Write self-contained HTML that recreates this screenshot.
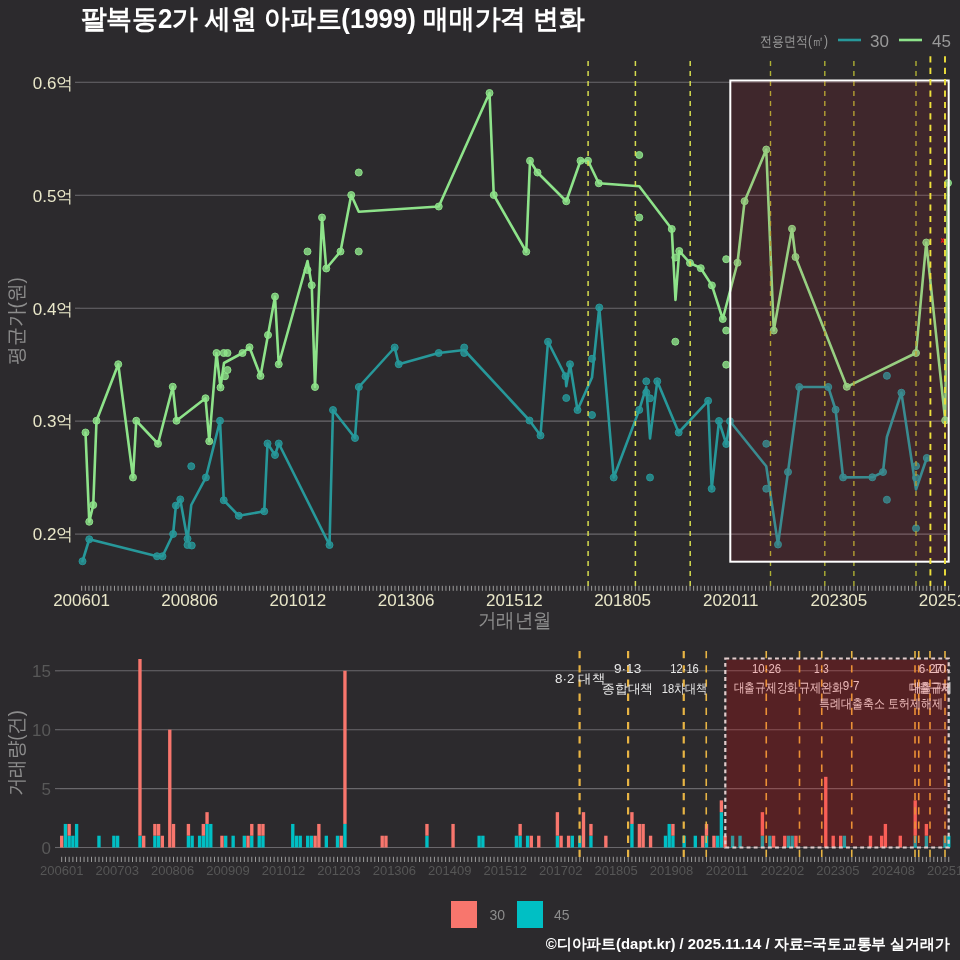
<!DOCTYPE html>
<html><head><meta charset="utf-8"><style>
html,body{margin:0;padding:0;background:#2c2a2d;width:960px;height:960px;overflow:hidden}
svg{display:block;will-change:transform}
text{font-family:"Liberation Sans", sans-serif}
.yl{font-size:17px;fill:#e9e7c9}
.xl{font-size:17px;fill:#e9e7c9}
.title{font-size:27px;font-weight:bold;fill:#ffffff}
.axt{font-size:20px;fill:#8c8c8c}
.lg{font-size:14px;fill:#9a9a9a}
.lgn{font-size:17px;fill:#9a9a9a}
.byl{font-size:17px;fill:#585858}
.bxl{font-size:13px;fill:#565656}
.ann{font-size:13px;fill:#e8e8e8}
.bleg{font-size:14px;fill:#8c8c8c}
.cap{font-size:15px;font-weight:bold;fill:#ffffff}
</style></head><body>
<svg width="960" height="960" viewBox="0 0 960 960">
<defs><clipPath id="bclip"><rect x="60" y="640" width="890.5" height="230"/></clipPath></defs>
<rect x="0" y="0" width="960" height="960" fill="#2c2a2d"/>
<line x1="80" y1="82.3" x2="950" y2="82.3" stroke="#6a686c" stroke-width="1.1"/>
<line x1="75" y1="82.3" x2="80" y2="82.3" stroke="#6a686c" stroke-width="1.1"/>
<text x="73.5" y="88.6" text-anchor="end" class="yl">0.6억</text>
<line x1="80" y1="195.3" x2="950" y2="195.3" stroke="#6a686c" stroke-width="1.1"/>
<line x1="75" y1="195.3" x2="80" y2="195.3" stroke="#6a686c" stroke-width="1.1"/>
<text x="73.5" y="201.6" text-anchor="end" class="yl">0.5억</text>
<line x1="80" y1="308.2" x2="950" y2="308.2" stroke="#6a686c" stroke-width="1.1"/>
<line x1="75" y1="308.2" x2="80" y2="308.2" stroke="#6a686c" stroke-width="1.1"/>
<text x="73.5" y="314.5" text-anchor="end" class="yl">0.4억</text>
<line x1="80" y1="421.1" x2="950" y2="421.1" stroke="#6a686c" stroke-width="1.1"/>
<line x1="75" y1="421.1" x2="80" y2="421.1" stroke="#6a686c" stroke-width="1.1"/>
<text x="73.5" y="427.4" text-anchor="end" class="yl">0.3억</text>
<line x1="80" y1="534.1" x2="950" y2="534.1" stroke="#6a686c" stroke-width="1.1"/>
<line x1="75" y1="534.1" x2="80" y2="534.1" stroke="#6a686c" stroke-width="1.1"/>
<text x="73.5" y="540.4" text-anchor="end" class="yl">0.2억</text>
<line x1="81.7" y1="585.8" x2="81.7" y2="590.8" stroke="#a8a8a8" stroke-width="0.9"/>
<line x1="85.34" y1="585.8" x2="85.34" y2="590.8" stroke="#a8a8a8" stroke-width="0.9"/>
<line x1="88.98" y1="585.8" x2="88.98" y2="590.8" stroke="#a8a8a8" stroke-width="0.9"/>
<line x1="92.63" y1="585.8" x2="92.63" y2="590.8" stroke="#a8a8a8" stroke-width="0.9"/>
<line x1="96.27" y1="585.8" x2="96.27" y2="590.8" stroke="#a8a8a8" stroke-width="0.9"/>
<line x1="99.91" y1="585.8" x2="99.91" y2="590.8" stroke="#a8a8a8" stroke-width="0.9"/>
<line x1="103.55" y1="585.8" x2="103.55" y2="590.8" stroke="#a8a8a8" stroke-width="0.9"/>
<line x1="107.2" y1="585.8" x2="107.2" y2="590.8" stroke="#a8a8a8" stroke-width="0.9"/>
<line x1="110.84" y1="585.8" x2="110.84" y2="590.8" stroke="#a8a8a8" stroke-width="0.9"/>
<line x1="114.48" y1="585.8" x2="114.48" y2="590.8" stroke="#a8a8a8" stroke-width="0.9"/>
<line x1="118.12" y1="585.8" x2="118.12" y2="590.8" stroke="#a8a8a8" stroke-width="0.9"/>
<line x1="121.77" y1="585.8" x2="121.77" y2="590.8" stroke="#a8a8a8" stroke-width="0.9"/>
<line x1="125.41" y1="585.8" x2="125.41" y2="590.8" stroke="#a8a8a8" stroke-width="0.9"/>
<line x1="129.05" y1="585.8" x2="129.05" y2="590.8" stroke="#a8a8a8" stroke-width="0.9"/>
<line x1="132.69" y1="585.8" x2="132.69" y2="590.8" stroke="#a8a8a8" stroke-width="0.9"/>
<line x1="136.34" y1="585.8" x2="136.34" y2="590.8" stroke="#a8a8a8" stroke-width="0.9"/>
<line x1="139.98" y1="585.8" x2="139.98" y2="590.8" stroke="#a8a8a8" stroke-width="0.9"/>
<line x1="143.62" y1="585.8" x2="143.62" y2="590.8" stroke="#a8a8a8" stroke-width="0.9"/>
<line x1="147.26" y1="585.8" x2="147.26" y2="590.8" stroke="#a8a8a8" stroke-width="0.9"/>
<line x1="150.91" y1="585.8" x2="150.91" y2="590.8" stroke="#a8a8a8" stroke-width="0.9"/>
<line x1="154.55" y1="585.8" x2="154.55" y2="590.8" stroke="#a8a8a8" stroke-width="0.9"/>
<line x1="158.19" y1="585.8" x2="158.19" y2="590.8" stroke="#a8a8a8" stroke-width="0.9"/>
<line x1="161.83" y1="585.8" x2="161.83" y2="590.8" stroke="#a8a8a8" stroke-width="0.9"/>
<line x1="165.48" y1="585.8" x2="165.48" y2="590.8" stroke="#a8a8a8" stroke-width="0.9"/>
<line x1="169.12" y1="585.8" x2="169.12" y2="590.8" stroke="#a8a8a8" stroke-width="0.9"/>
<line x1="172.76" y1="585.8" x2="172.76" y2="590.8" stroke="#a8a8a8" stroke-width="0.9"/>
<line x1="176.4" y1="585.8" x2="176.4" y2="590.8" stroke="#a8a8a8" stroke-width="0.9"/>
<line x1="180.05" y1="585.8" x2="180.05" y2="590.8" stroke="#a8a8a8" stroke-width="0.9"/>
<line x1="183.69" y1="585.8" x2="183.69" y2="590.8" stroke="#a8a8a8" stroke-width="0.9"/>
<line x1="187.33" y1="585.8" x2="187.33" y2="590.8" stroke="#a8a8a8" stroke-width="0.9"/>
<line x1="190.97" y1="585.8" x2="190.97" y2="590.8" stroke="#a8a8a8" stroke-width="0.9"/>
<line x1="194.62" y1="585.8" x2="194.62" y2="590.8" stroke="#a8a8a8" stroke-width="0.9"/>
<line x1="198.26" y1="585.8" x2="198.26" y2="590.8" stroke="#a8a8a8" stroke-width="0.9"/>
<line x1="201.9" y1="585.8" x2="201.9" y2="590.8" stroke="#a8a8a8" stroke-width="0.9"/>
<line x1="205.54" y1="585.8" x2="205.54" y2="590.8" stroke="#a8a8a8" stroke-width="0.9"/>
<line x1="209.19" y1="585.8" x2="209.19" y2="590.8" stroke="#a8a8a8" stroke-width="0.9"/>
<line x1="212.83" y1="585.8" x2="212.83" y2="590.8" stroke="#a8a8a8" stroke-width="0.9"/>
<line x1="216.47" y1="585.8" x2="216.47" y2="590.8" stroke="#a8a8a8" stroke-width="0.9"/>
<line x1="220.11" y1="585.8" x2="220.11" y2="590.8" stroke="#a8a8a8" stroke-width="0.9"/>
<line x1="223.76" y1="585.8" x2="223.76" y2="590.8" stroke="#a8a8a8" stroke-width="0.9"/>
<line x1="227.4" y1="585.8" x2="227.4" y2="590.8" stroke="#a8a8a8" stroke-width="0.9"/>
<line x1="231.04" y1="585.8" x2="231.04" y2="590.8" stroke="#a8a8a8" stroke-width="0.9"/>
<line x1="234.68" y1="585.8" x2="234.68" y2="590.8" stroke="#a8a8a8" stroke-width="0.9"/>
<line x1="238.32" y1="585.8" x2="238.32" y2="590.8" stroke="#a8a8a8" stroke-width="0.9"/>
<line x1="241.97" y1="585.8" x2="241.97" y2="590.8" stroke="#a8a8a8" stroke-width="0.9"/>
<line x1="245.61" y1="585.8" x2="245.61" y2="590.8" stroke="#a8a8a8" stroke-width="0.9"/>
<line x1="249.25" y1="585.8" x2="249.25" y2="590.8" stroke="#a8a8a8" stroke-width="0.9"/>
<line x1="252.89" y1="585.8" x2="252.89" y2="590.8" stroke="#a8a8a8" stroke-width="0.9"/>
<line x1="256.54" y1="585.8" x2="256.54" y2="590.8" stroke="#a8a8a8" stroke-width="0.9"/>
<line x1="260.18" y1="585.8" x2="260.18" y2="590.8" stroke="#a8a8a8" stroke-width="0.9"/>
<line x1="263.82" y1="585.8" x2="263.82" y2="590.8" stroke="#a8a8a8" stroke-width="0.9"/>
<line x1="267.46" y1="585.8" x2="267.46" y2="590.8" stroke="#a8a8a8" stroke-width="0.9"/>
<line x1="271.11" y1="585.8" x2="271.11" y2="590.8" stroke="#a8a8a8" stroke-width="0.9"/>
<line x1="274.75" y1="585.8" x2="274.75" y2="590.8" stroke="#a8a8a8" stroke-width="0.9"/>
<line x1="278.39" y1="585.8" x2="278.39" y2="590.8" stroke="#a8a8a8" stroke-width="0.9"/>
<line x1="282.03" y1="585.8" x2="282.03" y2="590.8" stroke="#a8a8a8" stroke-width="0.9"/>
<line x1="285.68" y1="585.8" x2="285.68" y2="590.8" stroke="#a8a8a8" stroke-width="0.9"/>
<line x1="289.32" y1="585.8" x2="289.32" y2="590.8" stroke="#a8a8a8" stroke-width="0.9"/>
<line x1="292.96" y1="585.8" x2="292.96" y2="590.8" stroke="#a8a8a8" stroke-width="0.9"/>
<line x1="296.6" y1="585.8" x2="296.6" y2="590.8" stroke="#a8a8a8" stroke-width="0.9"/>
<line x1="300.25" y1="585.8" x2="300.25" y2="590.8" stroke="#a8a8a8" stroke-width="0.9"/>
<line x1="303.89" y1="585.8" x2="303.89" y2="590.8" stroke="#a8a8a8" stroke-width="0.9"/>
<line x1="307.53" y1="585.8" x2="307.53" y2="590.8" stroke="#a8a8a8" stroke-width="0.9"/>
<line x1="311.17" y1="585.8" x2="311.17" y2="590.8" stroke="#a8a8a8" stroke-width="0.9"/>
<line x1="314.82" y1="585.8" x2="314.82" y2="590.8" stroke="#a8a8a8" stroke-width="0.9"/>
<line x1="318.46" y1="585.8" x2="318.46" y2="590.8" stroke="#a8a8a8" stroke-width="0.9"/>
<line x1="322.1" y1="585.8" x2="322.1" y2="590.8" stroke="#a8a8a8" stroke-width="0.9"/>
<line x1="325.74" y1="585.8" x2="325.74" y2="590.8" stroke="#a8a8a8" stroke-width="0.9"/>
<line x1="329.39" y1="585.8" x2="329.39" y2="590.8" stroke="#a8a8a8" stroke-width="0.9"/>
<line x1="333.03" y1="585.8" x2="333.03" y2="590.8" stroke="#a8a8a8" stroke-width="0.9"/>
<line x1="336.67" y1="585.8" x2="336.67" y2="590.8" stroke="#a8a8a8" stroke-width="0.9"/>
<line x1="340.31" y1="585.8" x2="340.31" y2="590.8" stroke="#a8a8a8" stroke-width="0.9"/>
<line x1="343.96" y1="585.8" x2="343.96" y2="590.8" stroke="#a8a8a8" stroke-width="0.9"/>
<line x1="347.6" y1="585.8" x2="347.6" y2="590.8" stroke="#a8a8a8" stroke-width="0.9"/>
<line x1="351.24" y1="585.8" x2="351.24" y2="590.8" stroke="#a8a8a8" stroke-width="0.9"/>
<line x1="354.88" y1="585.8" x2="354.88" y2="590.8" stroke="#a8a8a8" stroke-width="0.9"/>
<line x1="358.53" y1="585.8" x2="358.53" y2="590.8" stroke="#a8a8a8" stroke-width="0.9"/>
<line x1="362.17" y1="585.8" x2="362.17" y2="590.8" stroke="#a8a8a8" stroke-width="0.9"/>
<line x1="365.81" y1="585.8" x2="365.81" y2="590.8" stroke="#a8a8a8" stroke-width="0.9"/>
<line x1="369.45" y1="585.8" x2="369.45" y2="590.8" stroke="#a8a8a8" stroke-width="0.9"/>
<line x1="373.09" y1="585.8" x2="373.09" y2="590.8" stroke="#a8a8a8" stroke-width="0.9"/>
<line x1="376.74" y1="585.8" x2="376.74" y2="590.8" stroke="#a8a8a8" stroke-width="0.9"/>
<line x1="380.38" y1="585.8" x2="380.38" y2="590.8" stroke="#a8a8a8" stroke-width="0.9"/>
<line x1="384.02" y1="585.8" x2="384.02" y2="590.8" stroke="#a8a8a8" stroke-width="0.9"/>
<line x1="387.66" y1="585.8" x2="387.66" y2="590.8" stroke="#a8a8a8" stroke-width="0.9"/>
<line x1="391.31" y1="585.8" x2="391.31" y2="590.8" stroke="#a8a8a8" stroke-width="0.9"/>
<line x1="394.95" y1="585.8" x2="394.95" y2="590.8" stroke="#a8a8a8" stroke-width="0.9"/>
<line x1="398.59" y1="585.8" x2="398.59" y2="590.8" stroke="#a8a8a8" stroke-width="0.9"/>
<line x1="402.23" y1="585.8" x2="402.23" y2="590.8" stroke="#a8a8a8" stroke-width="0.9"/>
<line x1="405.88" y1="585.8" x2="405.88" y2="590.8" stroke="#a8a8a8" stroke-width="0.9"/>
<line x1="409.52" y1="585.8" x2="409.52" y2="590.8" stroke="#a8a8a8" stroke-width="0.9"/>
<line x1="413.16" y1="585.8" x2="413.16" y2="590.8" stroke="#a8a8a8" stroke-width="0.9"/>
<line x1="416.8" y1="585.8" x2="416.8" y2="590.8" stroke="#a8a8a8" stroke-width="0.9"/>
<line x1="420.45" y1="585.8" x2="420.45" y2="590.8" stroke="#a8a8a8" stroke-width="0.9"/>
<line x1="424.09" y1="585.8" x2="424.09" y2="590.8" stroke="#a8a8a8" stroke-width="0.9"/>
<line x1="427.73" y1="585.8" x2="427.73" y2="590.8" stroke="#a8a8a8" stroke-width="0.9"/>
<line x1="431.37" y1="585.8" x2="431.37" y2="590.8" stroke="#a8a8a8" stroke-width="0.9"/>
<line x1="435.02" y1="585.8" x2="435.02" y2="590.8" stroke="#a8a8a8" stroke-width="0.9"/>
<line x1="438.66" y1="585.8" x2="438.66" y2="590.8" stroke="#a8a8a8" stroke-width="0.9"/>
<line x1="442.3" y1="585.8" x2="442.3" y2="590.8" stroke="#a8a8a8" stroke-width="0.9"/>
<line x1="445.94" y1="585.8" x2="445.94" y2="590.8" stroke="#a8a8a8" stroke-width="0.9"/>
<line x1="449.59" y1="585.8" x2="449.59" y2="590.8" stroke="#a8a8a8" stroke-width="0.9"/>
<line x1="453.23" y1="585.8" x2="453.23" y2="590.8" stroke="#a8a8a8" stroke-width="0.9"/>
<line x1="456.87" y1="585.8" x2="456.87" y2="590.8" stroke="#a8a8a8" stroke-width="0.9"/>
<line x1="460.51" y1="585.8" x2="460.51" y2="590.8" stroke="#a8a8a8" stroke-width="0.9"/>
<line x1="464.16" y1="585.8" x2="464.16" y2="590.8" stroke="#a8a8a8" stroke-width="0.9"/>
<line x1="467.8" y1="585.8" x2="467.8" y2="590.8" stroke="#a8a8a8" stroke-width="0.9"/>
<line x1="471.44" y1="585.8" x2="471.44" y2="590.8" stroke="#a8a8a8" stroke-width="0.9"/>
<line x1="475.08" y1="585.8" x2="475.08" y2="590.8" stroke="#a8a8a8" stroke-width="0.9"/>
<line x1="478.73" y1="585.8" x2="478.73" y2="590.8" stroke="#a8a8a8" stroke-width="0.9"/>
<line x1="482.37" y1="585.8" x2="482.37" y2="590.8" stroke="#a8a8a8" stroke-width="0.9"/>
<line x1="486.01" y1="585.8" x2="486.01" y2="590.8" stroke="#a8a8a8" stroke-width="0.9"/>
<line x1="489.65" y1="585.8" x2="489.65" y2="590.8" stroke="#a8a8a8" stroke-width="0.9"/>
<line x1="493.3" y1="585.8" x2="493.3" y2="590.8" stroke="#a8a8a8" stroke-width="0.9"/>
<line x1="496.94" y1="585.8" x2="496.94" y2="590.8" stroke="#a8a8a8" stroke-width="0.9"/>
<line x1="500.58" y1="585.8" x2="500.58" y2="590.8" stroke="#a8a8a8" stroke-width="0.9"/>
<line x1="504.22" y1="585.8" x2="504.22" y2="590.8" stroke="#a8a8a8" stroke-width="0.9"/>
<line x1="507.87" y1="585.8" x2="507.87" y2="590.8" stroke="#a8a8a8" stroke-width="0.9"/>
<line x1="511.51" y1="585.8" x2="511.51" y2="590.8" stroke="#a8a8a8" stroke-width="0.9"/>
<line x1="515.15" y1="585.8" x2="515.15" y2="590.8" stroke="#a8a8a8" stroke-width="0.9"/>
<line x1="518.79" y1="585.8" x2="518.79" y2="590.8" stroke="#a8a8a8" stroke-width="0.9"/>
<line x1="522.43" y1="585.8" x2="522.43" y2="590.8" stroke="#a8a8a8" stroke-width="0.9"/>
<line x1="526.08" y1="585.8" x2="526.08" y2="590.8" stroke="#a8a8a8" stroke-width="0.9"/>
<line x1="529.72" y1="585.8" x2="529.72" y2="590.8" stroke="#a8a8a8" stroke-width="0.9"/>
<line x1="533.36" y1="585.8" x2="533.36" y2="590.8" stroke="#a8a8a8" stroke-width="0.9"/>
<line x1="537" y1="585.8" x2="537" y2="590.8" stroke="#a8a8a8" stroke-width="0.9"/>
<line x1="540.65" y1="585.8" x2="540.65" y2="590.8" stroke="#a8a8a8" stroke-width="0.9"/>
<line x1="544.29" y1="585.8" x2="544.29" y2="590.8" stroke="#a8a8a8" stroke-width="0.9"/>
<line x1="547.93" y1="585.8" x2="547.93" y2="590.8" stroke="#a8a8a8" stroke-width="0.9"/>
<line x1="551.57" y1="585.8" x2="551.57" y2="590.8" stroke="#a8a8a8" stroke-width="0.9"/>
<line x1="555.22" y1="585.8" x2="555.22" y2="590.8" stroke="#a8a8a8" stroke-width="0.9"/>
<line x1="558.86" y1="585.8" x2="558.86" y2="590.8" stroke="#a8a8a8" stroke-width="0.9"/>
<line x1="562.5" y1="585.8" x2="562.5" y2="590.8" stroke="#a8a8a8" stroke-width="0.9"/>
<line x1="566.14" y1="585.8" x2="566.14" y2="590.8" stroke="#a8a8a8" stroke-width="0.9"/>
<line x1="569.79" y1="585.8" x2="569.79" y2="590.8" stroke="#a8a8a8" stroke-width="0.9"/>
<line x1="573.43" y1="585.8" x2="573.43" y2="590.8" stroke="#a8a8a8" stroke-width="0.9"/>
<line x1="577.07" y1="585.8" x2="577.07" y2="590.8" stroke="#a8a8a8" stroke-width="0.9"/>
<line x1="580.71" y1="585.8" x2="580.71" y2="590.8" stroke="#a8a8a8" stroke-width="0.9"/>
<line x1="584.36" y1="585.8" x2="584.36" y2="590.8" stroke="#a8a8a8" stroke-width="0.9"/>
<line x1="588" y1="585.8" x2="588" y2="590.8" stroke="#a8a8a8" stroke-width="0.9"/>
<line x1="591.64" y1="585.8" x2="591.64" y2="590.8" stroke="#a8a8a8" stroke-width="0.9"/>
<line x1="595.28" y1="585.8" x2="595.28" y2="590.8" stroke="#a8a8a8" stroke-width="0.9"/>
<line x1="598.93" y1="585.8" x2="598.93" y2="590.8" stroke="#a8a8a8" stroke-width="0.9"/>
<line x1="602.57" y1="585.8" x2="602.57" y2="590.8" stroke="#a8a8a8" stroke-width="0.9"/>
<line x1="606.21" y1="585.8" x2="606.21" y2="590.8" stroke="#a8a8a8" stroke-width="0.9"/>
<line x1="609.85" y1="585.8" x2="609.85" y2="590.8" stroke="#a8a8a8" stroke-width="0.9"/>
<line x1="613.5" y1="585.8" x2="613.5" y2="590.8" stroke="#a8a8a8" stroke-width="0.9"/>
<line x1="617.14" y1="585.8" x2="617.14" y2="590.8" stroke="#a8a8a8" stroke-width="0.9"/>
<line x1="620.78" y1="585.8" x2="620.78" y2="590.8" stroke="#a8a8a8" stroke-width="0.9"/>
<line x1="624.42" y1="585.8" x2="624.42" y2="590.8" stroke="#a8a8a8" stroke-width="0.9"/>
<line x1="628.07" y1="585.8" x2="628.07" y2="590.8" stroke="#a8a8a8" stroke-width="0.9"/>
<line x1="631.71" y1="585.8" x2="631.71" y2="590.8" stroke="#a8a8a8" stroke-width="0.9"/>
<line x1="635.35" y1="585.8" x2="635.35" y2="590.8" stroke="#a8a8a8" stroke-width="0.9"/>
<line x1="638.99" y1="585.8" x2="638.99" y2="590.8" stroke="#a8a8a8" stroke-width="0.9"/>
<line x1="642.64" y1="585.8" x2="642.64" y2="590.8" stroke="#a8a8a8" stroke-width="0.9"/>
<line x1="646.28" y1="585.8" x2="646.28" y2="590.8" stroke="#a8a8a8" stroke-width="0.9"/>
<line x1="649.92" y1="585.8" x2="649.92" y2="590.8" stroke="#a8a8a8" stroke-width="0.9"/>
<line x1="653.56" y1="585.8" x2="653.56" y2="590.8" stroke="#a8a8a8" stroke-width="0.9"/>
<line x1="657.21" y1="585.8" x2="657.21" y2="590.8" stroke="#a8a8a8" stroke-width="0.9"/>
<line x1="660.85" y1="585.8" x2="660.85" y2="590.8" stroke="#a8a8a8" stroke-width="0.9"/>
<line x1="664.49" y1="585.8" x2="664.49" y2="590.8" stroke="#a8a8a8" stroke-width="0.9"/>
<line x1="668.13" y1="585.8" x2="668.13" y2="590.8" stroke="#a8a8a8" stroke-width="0.9"/>
<line x1="671.77" y1="585.8" x2="671.77" y2="590.8" stroke="#a8a8a8" stroke-width="0.9"/>
<line x1="675.42" y1="585.8" x2="675.42" y2="590.8" stroke="#a8a8a8" stroke-width="0.9"/>
<line x1="679.06" y1="585.8" x2="679.06" y2="590.8" stroke="#a8a8a8" stroke-width="0.9"/>
<line x1="682.7" y1="585.8" x2="682.7" y2="590.8" stroke="#a8a8a8" stroke-width="0.9"/>
<line x1="686.34" y1="585.8" x2="686.34" y2="590.8" stroke="#a8a8a8" stroke-width="0.9"/>
<line x1="689.99" y1="585.8" x2="689.99" y2="590.8" stroke="#a8a8a8" stroke-width="0.9"/>
<line x1="693.63" y1="585.8" x2="693.63" y2="590.8" stroke="#a8a8a8" stroke-width="0.9"/>
<line x1="697.27" y1="585.8" x2="697.27" y2="590.8" stroke="#a8a8a8" stroke-width="0.9"/>
<line x1="700.91" y1="585.8" x2="700.91" y2="590.8" stroke="#a8a8a8" stroke-width="0.9"/>
<line x1="704.56" y1="585.8" x2="704.56" y2="590.8" stroke="#a8a8a8" stroke-width="0.9"/>
<line x1="708.2" y1="585.8" x2="708.2" y2="590.8" stroke="#a8a8a8" stroke-width="0.9"/>
<line x1="711.84" y1="585.8" x2="711.84" y2="590.8" stroke="#a8a8a8" stroke-width="0.9"/>
<line x1="715.48" y1="585.8" x2="715.48" y2="590.8" stroke="#a8a8a8" stroke-width="0.9"/>
<line x1="719.13" y1="585.8" x2="719.13" y2="590.8" stroke="#a8a8a8" stroke-width="0.9"/>
<line x1="722.77" y1="585.8" x2="722.77" y2="590.8" stroke="#a8a8a8" stroke-width="0.9"/>
<line x1="726.41" y1="585.8" x2="726.41" y2="590.8" stroke="#a8a8a8" stroke-width="0.9"/>
<line x1="730.05" y1="585.8" x2="730.05" y2="590.8" stroke="#a8a8a8" stroke-width="0.9"/>
<line x1="733.7" y1="585.8" x2="733.7" y2="590.8" stroke="#a8a8a8" stroke-width="0.9"/>
<line x1="737.34" y1="585.8" x2="737.34" y2="590.8" stroke="#a8a8a8" stroke-width="0.9"/>
<line x1="740.98" y1="585.8" x2="740.98" y2="590.8" stroke="#a8a8a8" stroke-width="0.9"/>
<line x1="744.62" y1="585.8" x2="744.62" y2="590.8" stroke="#a8a8a8" stroke-width="0.9"/>
<line x1="748.27" y1="585.8" x2="748.27" y2="590.8" stroke="#a8a8a8" stroke-width="0.9"/>
<line x1="751.91" y1="585.8" x2="751.91" y2="590.8" stroke="#a8a8a8" stroke-width="0.9"/>
<line x1="755.55" y1="585.8" x2="755.55" y2="590.8" stroke="#a8a8a8" stroke-width="0.9"/>
<line x1="759.19" y1="585.8" x2="759.19" y2="590.8" stroke="#a8a8a8" stroke-width="0.9"/>
<line x1="762.84" y1="585.8" x2="762.84" y2="590.8" stroke="#a8a8a8" stroke-width="0.9"/>
<line x1="766.48" y1="585.8" x2="766.48" y2="590.8" stroke="#a8a8a8" stroke-width="0.9"/>
<line x1="770.12" y1="585.8" x2="770.12" y2="590.8" stroke="#a8a8a8" stroke-width="0.9"/>
<line x1="773.76" y1="585.8" x2="773.76" y2="590.8" stroke="#a8a8a8" stroke-width="0.9"/>
<line x1="777.41" y1="585.8" x2="777.41" y2="590.8" stroke="#a8a8a8" stroke-width="0.9"/>
<line x1="781.05" y1="585.8" x2="781.05" y2="590.8" stroke="#a8a8a8" stroke-width="0.9"/>
<line x1="784.69" y1="585.8" x2="784.69" y2="590.8" stroke="#a8a8a8" stroke-width="0.9"/>
<line x1="788.33" y1="585.8" x2="788.33" y2="590.8" stroke="#a8a8a8" stroke-width="0.9"/>
<line x1="791.98" y1="585.8" x2="791.98" y2="590.8" stroke="#a8a8a8" stroke-width="0.9"/>
<line x1="795.62" y1="585.8" x2="795.62" y2="590.8" stroke="#a8a8a8" stroke-width="0.9"/>
<line x1="799.26" y1="585.8" x2="799.26" y2="590.8" stroke="#a8a8a8" stroke-width="0.9"/>
<line x1="802.9" y1="585.8" x2="802.9" y2="590.8" stroke="#a8a8a8" stroke-width="0.9"/>
<line x1="806.54" y1="585.8" x2="806.54" y2="590.8" stroke="#a8a8a8" stroke-width="0.9"/>
<line x1="810.19" y1="585.8" x2="810.19" y2="590.8" stroke="#a8a8a8" stroke-width="0.9"/>
<line x1="813.83" y1="585.8" x2="813.83" y2="590.8" stroke="#a8a8a8" stroke-width="0.9"/>
<line x1="817.47" y1="585.8" x2="817.47" y2="590.8" stroke="#a8a8a8" stroke-width="0.9"/>
<line x1="821.11" y1="585.8" x2="821.11" y2="590.8" stroke="#a8a8a8" stroke-width="0.9"/>
<line x1="824.76" y1="585.8" x2="824.76" y2="590.8" stroke="#a8a8a8" stroke-width="0.9"/>
<line x1="828.4" y1="585.8" x2="828.4" y2="590.8" stroke="#a8a8a8" stroke-width="0.9"/>
<line x1="832.04" y1="585.8" x2="832.04" y2="590.8" stroke="#a8a8a8" stroke-width="0.9"/>
<line x1="835.68" y1="585.8" x2="835.68" y2="590.8" stroke="#a8a8a8" stroke-width="0.9"/>
<line x1="839.33" y1="585.8" x2="839.33" y2="590.8" stroke="#a8a8a8" stroke-width="0.9"/>
<line x1="842.97" y1="585.8" x2="842.97" y2="590.8" stroke="#a8a8a8" stroke-width="0.9"/>
<line x1="846.61" y1="585.8" x2="846.61" y2="590.8" stroke="#a8a8a8" stroke-width="0.9"/>
<line x1="850.25" y1="585.8" x2="850.25" y2="590.8" stroke="#a8a8a8" stroke-width="0.9"/>
<line x1="853.9" y1="585.8" x2="853.9" y2="590.8" stroke="#a8a8a8" stroke-width="0.9"/>
<line x1="857.54" y1="585.8" x2="857.54" y2="590.8" stroke="#a8a8a8" stroke-width="0.9"/>
<line x1="861.18" y1="585.8" x2="861.18" y2="590.8" stroke="#a8a8a8" stroke-width="0.9"/>
<line x1="864.82" y1="585.8" x2="864.82" y2="590.8" stroke="#a8a8a8" stroke-width="0.9"/>
<line x1="868.47" y1="585.8" x2="868.47" y2="590.8" stroke="#a8a8a8" stroke-width="0.9"/>
<line x1="872.11" y1="585.8" x2="872.11" y2="590.8" stroke="#a8a8a8" stroke-width="0.9"/>
<line x1="875.75" y1="585.8" x2="875.75" y2="590.8" stroke="#a8a8a8" stroke-width="0.9"/>
<line x1="879.39" y1="585.8" x2="879.39" y2="590.8" stroke="#a8a8a8" stroke-width="0.9"/>
<line x1="883.04" y1="585.8" x2="883.04" y2="590.8" stroke="#a8a8a8" stroke-width="0.9"/>
<line x1="886.68" y1="585.8" x2="886.68" y2="590.8" stroke="#a8a8a8" stroke-width="0.9"/>
<line x1="890.32" y1="585.8" x2="890.32" y2="590.8" stroke="#a8a8a8" stroke-width="0.9"/>
<line x1="893.96" y1="585.8" x2="893.96" y2="590.8" stroke="#a8a8a8" stroke-width="0.9"/>
<line x1="897.61" y1="585.8" x2="897.61" y2="590.8" stroke="#a8a8a8" stroke-width="0.9"/>
<line x1="901.25" y1="585.8" x2="901.25" y2="590.8" stroke="#a8a8a8" stroke-width="0.9"/>
<line x1="904.89" y1="585.8" x2="904.89" y2="590.8" stroke="#a8a8a8" stroke-width="0.9"/>
<line x1="908.53" y1="585.8" x2="908.53" y2="590.8" stroke="#a8a8a8" stroke-width="0.9"/>
<line x1="912.18" y1="585.8" x2="912.18" y2="590.8" stroke="#a8a8a8" stroke-width="0.9"/>
<line x1="915.82" y1="585.8" x2="915.82" y2="590.8" stroke="#a8a8a8" stroke-width="0.9"/>
<line x1="919.46" y1="585.8" x2="919.46" y2="590.8" stroke="#a8a8a8" stroke-width="0.9"/>
<line x1="923.1" y1="585.8" x2="923.1" y2="590.8" stroke="#a8a8a8" stroke-width="0.9"/>
<line x1="926.75" y1="585.8" x2="926.75" y2="590.8" stroke="#a8a8a8" stroke-width="0.9"/>
<line x1="930.39" y1="585.8" x2="930.39" y2="590.8" stroke="#a8a8a8" stroke-width="0.9"/>
<line x1="934.03" y1="585.8" x2="934.03" y2="590.8" stroke="#a8a8a8" stroke-width="0.9"/>
<line x1="937.67" y1="585.8" x2="937.67" y2="590.8" stroke="#a8a8a8" stroke-width="0.9"/>
<line x1="941.32" y1="585.8" x2="941.32" y2="590.8" stroke="#a8a8a8" stroke-width="0.9"/>
<line x1="944.96" y1="585.8" x2="944.96" y2="590.8" stroke="#a8a8a8" stroke-width="0.9"/>
<line x1="948.6" y1="585.8" x2="948.6" y2="590.8" stroke="#a8a8a8" stroke-width="0.9"/>
<text x="81.5" y="606" text-anchor="middle" class="xl">200601</text>
<text x="189.7" y="606" text-anchor="middle" class="xl">200806</text>
<text x="297.9" y="606" text-anchor="middle" class="xl">201012</text>
<text x="406.1" y="606" text-anchor="middle" class="xl">201306</text>
<text x="514.3" y="606" text-anchor="middle" class="xl">201512</text>
<text x="622.5" y="606" text-anchor="middle" class="xl">201805</text>
<text x="730.7" y="606" text-anchor="middle" class="xl">202011</text>
<text x="838.9" y="606" text-anchor="middle" class="xl">202305</text>
<text x="947.1" y="606" text-anchor="middle" class="xl">202510</text>
<polyline points="82.5,561.25 89.25,539.25 157,556.25 162.5,556.25 173.1,534 175.9,505.6 180.25,499.4 187.5,540 191.25,505 205.9,477.5 220,420.75 223.75,500.25 238.75,515.75 264.25,511.25 267.5,443.5 275,455 278.75,443.5 329.5,545 333,410 355,438 358.85,387 394.7,347.5 398.7,364.2 438.7,353 464.2,350 529.5,420.5 540.5,435.5 548,341.75 565.5,376.25 566.25,386.25 570,364.25 577.5,410 592,377.5 599.25,307.5 613.75,477.5 639.25,409.9 646.25,386.8 650,438.5 657.25,381.3 678.7,432.5 708.1,400.8 711.7,488.8 719,421 726.25,444 730,421.2 766.25,466.25 778,544.5 788,472 799.25,387 828.25,387 835.6,409.75 843.1,477.4 872.3,477.3 883,472 886.9,437 901.4,392.7 916,489.5 926.8,458" fill="none" stroke="#27989a" stroke-width="2.6" stroke-linejoin="round" stroke-linecap="round"/>
<g fill="#27989a" fill-opacity="0.8" stroke="#27989a" stroke-opacity="0.95" stroke-width="1"><circle cx="82.5" cy="561.25" r="3.5"/><circle cx="89.25" cy="539.25" r="3.5"/><circle cx="157" cy="556.25" r="3.5"/><circle cx="162.5" cy="556.25" r="3.5"/><circle cx="173.1" cy="534" r="3.5"/><circle cx="175.9" cy="505.6" r="3.5"/><circle cx="180.25" cy="499.4" r="3.5"/><circle cx="205.9" cy="477.5" r="3.5"/><circle cx="220" cy="420.75" r="3.5"/><circle cx="223.75" cy="500.25" r="3.5"/><circle cx="238.75" cy="515.75" r="3.5"/><circle cx="264.25" cy="511.25" r="3.5"/><circle cx="267.5" cy="443.5" r="3.5"/><circle cx="275" cy="455" r="3.5"/><circle cx="278.75" cy="443.5" r="3.5"/><circle cx="329.5" cy="545" r="3.5"/><circle cx="333" cy="410" r="3.5"/><circle cx="355" cy="438" r="3.5"/><circle cx="358.85" cy="387" r="3.5"/><circle cx="394.7" cy="347.5" r="3.5"/><circle cx="398.7" cy="364.2" r="3.5"/><circle cx="438.7" cy="353" r="3.5"/><circle cx="529.5" cy="420.5" r="3.5"/><circle cx="540.5" cy="435.5" r="3.5"/><circle cx="548" cy="341.75" r="3.5"/><circle cx="565.5" cy="376.25" r="3.5"/><circle cx="570" cy="364.25" r="3.5"/><circle cx="577.5" cy="410" r="3.5"/><circle cx="599.25" cy="307.5" r="3.5"/><circle cx="613.75" cy="477.5" r="3.5"/><circle cx="639.25" cy="409.9" r="3.5"/><circle cx="657.25" cy="381.3" r="3.5"/><circle cx="678.7" cy="432.5" r="3.5"/><circle cx="708.1" cy="400.8" r="3.5"/><circle cx="711.7" cy="488.8" r="3.5"/><circle cx="719" cy="421" r="3.5"/><circle cx="726.25" cy="444" r="3.5"/><circle cx="730" cy="421.2" r="3.5"/><circle cx="778" cy="544.5" r="3.5"/><circle cx="788" cy="472" r="3.5"/><circle cx="799.25" cy="387" r="3.5"/><circle cx="828.25" cy="387" r="3.5"/><circle cx="835.6" cy="409.75" r="3.5"/><circle cx="843.1" cy="477.4" r="3.5"/><circle cx="872.3" cy="477.3" r="3.5"/><circle cx="883" cy="472" r="3.5"/><circle cx="901.4" cy="392.7" r="3.5"/><circle cx="926.8" cy="458" r="3.5"/><circle cx="191.25" cy="466.25" r="3.5"/><circle cx="191.75" cy="545.5" r="3.5"/><circle cx="187.5" cy="538.75" r="3.5"/><circle cx="187.5" cy="545" r="3.5"/><circle cx="566.25" cy="398" r="3.5"/><circle cx="592" cy="358.75" r="3.5"/><circle cx="592" cy="415" r="3.5"/><circle cx="650" cy="398.3" r="3.5"/><circle cx="650" cy="477.5" r="3.5"/><circle cx="646.25" cy="381.3" r="3.5"/><circle cx="646.25" cy="392.5" r="3.5"/><circle cx="464.2" cy="347.5" r="3.5"/><circle cx="464.2" cy="353" r="3.5"/><circle cx="766.25" cy="443.75" r="3.5"/><circle cx="766.25" cy="488.75" r="3.5"/><circle cx="886.9" cy="375.8" r="3.5"/><circle cx="886.9" cy="499.7" r="3.5"/><circle cx="916" cy="466" r="3.5"/><circle cx="916" cy="477.8" r="3.5"/><circle cx="916" cy="528.3" r="3.5"/></g>
<polyline points="85.5,432.5 89.25,521.75 93.25,505 96.5,420.75 118.25,364.25 133,477.5 136.25,420.75 158,443.75 172.75,386.75 176.5,420.75 205.5,398.25 209.25,441.25 216.5,353 220.5,387.5 224,363 242.5,353 249.5,347.25 260.5,376 268,335 275,296.5 278.75,364.25 307.5,261 311.75,285.25 315,387 322,217.5 326.25,268.5 340.5,251.5 351.25,195 358.75,211.75 438.75,206.5 489.5,93 493.75,195 526.25,251.75 530,160.75 537.5,172.5 566.25,201.25 580.5,160.75 588,160.75 598.75,183.25 639.25,186.25 671.75,229 675.5,300 679.25,251 690,263 700.75,268.2 711.9,285.4 722.75,319 737.5,262.75 744.6,201.2 766.25,149.5 773.75,330.5 792,228.75 795.5,257 846.8,386.8 916,353 926.25,242.5 945.2,420.4 948,183" fill="none" stroke="#8ee38a" stroke-width="2.6" stroke-linejoin="round" stroke-linecap="round"/>
<g fill="#8ee38a" fill-opacity="0.8" stroke="#8ee38a" stroke-opacity="0.95" stroke-width="1"><circle cx="85.5" cy="432.5" r="3.5"/><circle cx="89.25" cy="521.75" r="3.5"/><circle cx="93.25" cy="505" r="3.5"/><circle cx="96.5" cy="420.75" r="3.5"/><circle cx="118.25" cy="364.25" r="3.5"/><circle cx="133" cy="477.5" r="3.5"/><circle cx="136.25" cy="420.75" r="3.5"/><circle cx="158" cy="443.75" r="3.5"/><circle cx="172.75" cy="386.75" r="3.5"/><circle cx="176.5" cy="420.75" r="3.5"/><circle cx="205.5" cy="398.25" r="3.5"/><circle cx="209.25" cy="441.25" r="3.5"/><circle cx="216.5" cy="353" r="3.5"/><circle cx="220.5" cy="387.5" r="3.5"/><circle cx="242.5" cy="353" r="3.5"/><circle cx="249.5" cy="347.25" r="3.5"/><circle cx="260.5" cy="376" r="3.5"/><circle cx="268" cy="335" r="3.5"/><circle cx="275" cy="296.5" r="3.5"/><circle cx="278.75" cy="364.25" r="3.5"/><circle cx="311.75" cy="285.25" r="3.5"/><circle cx="315" cy="387" r="3.5"/><circle cx="322" cy="217.5" r="3.5"/><circle cx="326.25" cy="268.5" r="3.5"/><circle cx="340.5" cy="251.5" r="3.5"/><circle cx="351.25" cy="195" r="3.5"/><circle cx="438.75" cy="206.5" r="3.5"/><circle cx="489.5" cy="93" r="3.5"/><circle cx="493.75" cy="195" r="3.5"/><circle cx="526.25" cy="251.75" r="3.5"/><circle cx="530" cy="160.75" r="3.5"/><circle cx="537.5" cy="172.5" r="3.5"/><circle cx="566.25" cy="201.25" r="3.5"/><circle cx="580.5" cy="160.75" r="3.5"/><circle cx="588" cy="160.75" r="3.5"/><circle cx="598.75" cy="183.25" r="3.5"/><circle cx="671.75" cy="229" r="3.5"/><circle cx="679.25" cy="251" r="3.5"/><circle cx="690" cy="263" r="3.5"/><circle cx="700.75" cy="268.2" r="3.5"/><circle cx="711.9" cy="285.4" r="3.5"/><circle cx="722.75" cy="319" r="3.5"/><circle cx="737.5" cy="262.75" r="3.5"/><circle cx="744.6" cy="201.2" r="3.5"/><circle cx="766.25" cy="149.5" r="3.5"/><circle cx="773.75" cy="330.5" r="3.5"/><circle cx="792" cy="228.75" r="3.5"/><circle cx="795.5" cy="257" r="3.5"/><circle cx="846.8" cy="386.8" r="3.5"/><circle cx="916" cy="353" r="3.5"/><circle cx="926.25" cy="242.5" r="3.5"/><circle cx="945.2" cy="420.4" r="3.5"/><circle cx="948" cy="183" r="3.5"/><circle cx="307.5" cy="251.5" r="3.5"/><circle cx="307.5" cy="270" r="3.5"/><circle cx="358.75" cy="172.5" r="3.5"/><circle cx="358.75" cy="251.5" r="3.5"/><circle cx="223.75" cy="353" r="3.5"/><circle cx="227.5" cy="353" r="3.5"/><circle cx="227.5" cy="370" r="3.5"/><circle cx="225" cy="376.25" r="3.5"/><circle cx="639.25" cy="155" r="3.5"/><circle cx="639.25" cy="217.5" r="3.5"/><circle cx="675.3" cy="257.5" r="3.5"/><circle cx="675.3" cy="341.7" r="3.5"/><circle cx="726.2" cy="259.2" r="3.5"/><circle cx="726.2" cy="330.5" r="3.5"/><circle cx="726.2" cy="364.7" r="3.5"/></g>
<line x1="588.1" y1="61" x2="588.1" y2="586" stroke="#d6dc4e" stroke-width="1.5" stroke-dasharray="5 5"/>
<line x1="635.4" y1="61" x2="635.4" y2="586" stroke="#d6dc4e" stroke-width="1.5" stroke-dasharray="5 5"/>
<line x1="690.2" y1="61" x2="690.2" y2="586" stroke="#d6dc4e" stroke-width="1.5" stroke-dasharray="5 5"/>
<line x1="770.5" y1="61" x2="770.5" y2="586" stroke="#aeb034" stroke-width="1.4" stroke-dasharray="5 5"/>
<line x1="824.8" y1="61" x2="824.8" y2="586" stroke="#aeb034" stroke-width="1.4" stroke-dasharray="5 5"/>
<line x1="853.9" y1="61" x2="853.9" y2="586" stroke="#aeb034" stroke-width="1.4" stroke-dasharray="5 5"/>
<line x1="916" y1="61" x2="916" y2="586" stroke="#aeb034" stroke-width="1.4" stroke-dasharray="5 5"/>
<path d="M941.2 238.3 L944 242.6 M941.2 242.6 L944 238.3" stroke="#dd1a1a" stroke-width="1.3"/>
<rect x="730.3" y="80.5" width="218.4" height="481.2" fill="#ff1030" fill-opacity="0.09" stroke="#ffffff" stroke-width="2"/>
<line x1="930.4" y1="56.3" x2="930.4" y2="586" stroke="#eee03c" stroke-width="1.9" stroke-dasharray="6.2 5.2"/>
<line x1="945" y1="56.3" x2="945" y2="586" stroke="#eee03c" stroke-width="1.9" stroke-dasharray="6.2 5.2"/>
<text x="760" y="45.5" class="lg" textLength="68" lengthAdjust="spacingAndGlyphs">전용면적(㎡)</text>
<line x1="838" y1="40" x2="861" y2="40" stroke="#27989a" stroke-width="2.6"/>
<text x="870" y="47" class="lgn">30</text>
<line x1="899" y1="40" x2="922" y2="40" stroke="#8ee38a" stroke-width="2.6"/>
<text x="932" y="47" class="lgn">45</text>
<text x="80.5" y="28" class="title" textLength="504.5" lengthAdjust="spacingAndGlyphs">팔복동2가 세원 아파트(1999) 매매가격 변화</text>
<text x="477.5" y="627" class="axt" textLength="74" lengthAdjust="spacingAndGlyphs">거래년월</text>
<text transform="translate(23,365) rotate(-90)" class="axt" textLength="87.7" lengthAdjust="spacingAndGlyphs">평균가(원)</text>
<line x1="60" y1="847.5" x2="950" y2="847.5" stroke="#6a686c" stroke-width="1.1"/>
<line x1="55" y1="847.5" x2="60" y2="847.5" stroke="#6a686c" stroke-width="1.1"/>
<text x="51" y="853.5" text-anchor="end" class="byl">0</text>
<line x1="60" y1="788.6" x2="950" y2="788.6" stroke="#6a686c" stroke-width="1.1"/>
<line x1="55" y1="788.6" x2="60" y2="788.6" stroke="#6a686c" stroke-width="1.1"/>
<text x="51" y="794.6" text-anchor="end" class="byl">5</text>
<line x1="60" y1="729.7" x2="950" y2="729.7" stroke="#6a686c" stroke-width="1.1"/>
<line x1="55" y1="729.7" x2="60" y2="729.7" stroke="#6a686c" stroke-width="1.1"/>
<text x="51" y="735.7" text-anchor="end" class="byl">10</text>
<line x1="60" y1="670.8" x2="950" y2="670.8" stroke="#6a686c" stroke-width="1.1"/>
<line x1="55" y1="670.8" x2="60" y2="670.8" stroke="#6a686c" stroke-width="1.1"/>
<text x="51" y="676.8" text-anchor="end" class="byl">15</text>
<line x1="61.7" y1="856.8" x2="61.7" y2="862" stroke="#a8a8a8" stroke-width="0.9"/>
<line x1="65.43" y1="856.8" x2="65.43" y2="862" stroke="#a8a8a8" stroke-width="0.9"/>
<line x1="69.15" y1="856.8" x2="69.15" y2="862" stroke="#a8a8a8" stroke-width="0.9"/>
<line x1="72.88" y1="856.8" x2="72.88" y2="862" stroke="#a8a8a8" stroke-width="0.9"/>
<line x1="76.61" y1="856.8" x2="76.61" y2="862" stroke="#a8a8a8" stroke-width="0.9"/>
<line x1="80.34" y1="856.8" x2="80.34" y2="862" stroke="#a8a8a8" stroke-width="0.9"/>
<line x1="84.06" y1="856.8" x2="84.06" y2="862" stroke="#a8a8a8" stroke-width="0.9"/>
<line x1="87.79" y1="856.8" x2="87.79" y2="862" stroke="#a8a8a8" stroke-width="0.9"/>
<line x1="91.52" y1="856.8" x2="91.52" y2="862" stroke="#a8a8a8" stroke-width="0.9"/>
<line x1="95.24" y1="856.8" x2="95.24" y2="862" stroke="#a8a8a8" stroke-width="0.9"/>
<line x1="98.97" y1="856.8" x2="98.97" y2="862" stroke="#a8a8a8" stroke-width="0.9"/>
<line x1="102.7" y1="856.8" x2="102.7" y2="862" stroke="#a8a8a8" stroke-width="0.9"/>
<line x1="106.43" y1="856.8" x2="106.43" y2="862" stroke="#a8a8a8" stroke-width="0.9"/>
<line x1="110.15" y1="856.8" x2="110.15" y2="862" stroke="#a8a8a8" stroke-width="0.9"/>
<line x1="113.88" y1="856.8" x2="113.88" y2="862" stroke="#a8a8a8" stroke-width="0.9"/>
<line x1="117.61" y1="856.8" x2="117.61" y2="862" stroke="#a8a8a8" stroke-width="0.9"/>
<line x1="121.33" y1="856.8" x2="121.33" y2="862" stroke="#a8a8a8" stroke-width="0.9"/>
<line x1="125.06" y1="856.8" x2="125.06" y2="862" stroke="#a8a8a8" stroke-width="0.9"/>
<line x1="128.79" y1="856.8" x2="128.79" y2="862" stroke="#a8a8a8" stroke-width="0.9"/>
<line x1="132.51" y1="856.8" x2="132.51" y2="862" stroke="#a8a8a8" stroke-width="0.9"/>
<line x1="136.24" y1="856.8" x2="136.24" y2="862" stroke="#a8a8a8" stroke-width="0.9"/>
<line x1="139.97" y1="856.8" x2="139.97" y2="862" stroke="#a8a8a8" stroke-width="0.9"/>
<line x1="143.7" y1="856.8" x2="143.7" y2="862" stroke="#a8a8a8" stroke-width="0.9"/>
<line x1="147.42" y1="856.8" x2="147.42" y2="862" stroke="#a8a8a8" stroke-width="0.9"/>
<line x1="151.15" y1="856.8" x2="151.15" y2="862" stroke="#a8a8a8" stroke-width="0.9"/>
<line x1="154.88" y1="856.8" x2="154.88" y2="862" stroke="#a8a8a8" stroke-width="0.9"/>
<line x1="158.6" y1="856.8" x2="158.6" y2="862" stroke="#a8a8a8" stroke-width="0.9"/>
<line x1="162.33" y1="856.8" x2="162.33" y2="862" stroke="#a8a8a8" stroke-width="0.9"/>
<line x1="166.06" y1="856.8" x2="166.06" y2="862" stroke="#a8a8a8" stroke-width="0.9"/>
<line x1="169.79" y1="856.8" x2="169.79" y2="862" stroke="#a8a8a8" stroke-width="0.9"/>
<line x1="173.51" y1="856.8" x2="173.51" y2="862" stroke="#a8a8a8" stroke-width="0.9"/>
<line x1="177.24" y1="856.8" x2="177.24" y2="862" stroke="#a8a8a8" stroke-width="0.9"/>
<line x1="180.97" y1="856.8" x2="180.97" y2="862" stroke="#a8a8a8" stroke-width="0.9"/>
<line x1="184.69" y1="856.8" x2="184.69" y2="862" stroke="#a8a8a8" stroke-width="0.9"/>
<line x1="188.42" y1="856.8" x2="188.42" y2="862" stroke="#a8a8a8" stroke-width="0.9"/>
<line x1="192.15" y1="856.8" x2="192.15" y2="862" stroke="#a8a8a8" stroke-width="0.9"/>
<line x1="195.88" y1="856.8" x2="195.88" y2="862" stroke="#a8a8a8" stroke-width="0.9"/>
<line x1="199.6" y1="856.8" x2="199.6" y2="862" stroke="#a8a8a8" stroke-width="0.9"/>
<line x1="203.33" y1="856.8" x2="203.33" y2="862" stroke="#a8a8a8" stroke-width="0.9"/>
<line x1="207.06" y1="856.8" x2="207.06" y2="862" stroke="#a8a8a8" stroke-width="0.9"/>
<line x1="210.78" y1="856.8" x2="210.78" y2="862" stroke="#a8a8a8" stroke-width="0.9"/>
<line x1="214.51" y1="856.8" x2="214.51" y2="862" stroke="#a8a8a8" stroke-width="0.9"/>
<line x1="218.24" y1="856.8" x2="218.24" y2="862" stroke="#a8a8a8" stroke-width="0.9"/>
<line x1="221.97" y1="856.8" x2="221.97" y2="862" stroke="#a8a8a8" stroke-width="0.9"/>
<line x1="225.69" y1="856.8" x2="225.69" y2="862" stroke="#a8a8a8" stroke-width="0.9"/>
<line x1="229.42" y1="856.8" x2="229.42" y2="862" stroke="#a8a8a8" stroke-width="0.9"/>
<line x1="233.15" y1="856.8" x2="233.15" y2="862" stroke="#a8a8a8" stroke-width="0.9"/>
<line x1="236.87" y1="856.8" x2="236.87" y2="862" stroke="#a8a8a8" stroke-width="0.9"/>
<line x1="240.6" y1="856.8" x2="240.6" y2="862" stroke="#a8a8a8" stroke-width="0.9"/>
<line x1="244.33" y1="856.8" x2="244.33" y2="862" stroke="#a8a8a8" stroke-width="0.9"/>
<line x1="248.06" y1="856.8" x2="248.06" y2="862" stroke="#a8a8a8" stroke-width="0.9"/>
<line x1="251.78" y1="856.8" x2="251.78" y2="862" stroke="#a8a8a8" stroke-width="0.9"/>
<line x1="255.51" y1="856.8" x2="255.51" y2="862" stroke="#a8a8a8" stroke-width="0.9"/>
<line x1="259.24" y1="856.8" x2="259.24" y2="862" stroke="#a8a8a8" stroke-width="0.9"/>
<line x1="262.96" y1="856.8" x2="262.96" y2="862" stroke="#a8a8a8" stroke-width="0.9"/>
<line x1="266.69" y1="856.8" x2="266.69" y2="862" stroke="#a8a8a8" stroke-width="0.9"/>
<line x1="270.42" y1="856.8" x2="270.42" y2="862" stroke="#a8a8a8" stroke-width="0.9"/>
<line x1="274.14" y1="856.8" x2="274.14" y2="862" stroke="#a8a8a8" stroke-width="0.9"/>
<line x1="277.87" y1="856.8" x2="277.87" y2="862" stroke="#a8a8a8" stroke-width="0.9"/>
<line x1="281.6" y1="856.8" x2="281.6" y2="862" stroke="#a8a8a8" stroke-width="0.9"/>
<line x1="285.33" y1="856.8" x2="285.33" y2="862" stroke="#a8a8a8" stroke-width="0.9"/>
<line x1="289.05" y1="856.8" x2="289.05" y2="862" stroke="#a8a8a8" stroke-width="0.9"/>
<line x1="292.78" y1="856.8" x2="292.78" y2="862" stroke="#a8a8a8" stroke-width="0.9"/>
<line x1="296.51" y1="856.8" x2="296.51" y2="862" stroke="#a8a8a8" stroke-width="0.9"/>
<line x1="300.23" y1="856.8" x2="300.23" y2="862" stroke="#a8a8a8" stroke-width="0.9"/>
<line x1="303.96" y1="856.8" x2="303.96" y2="862" stroke="#a8a8a8" stroke-width="0.9"/>
<line x1="307.69" y1="856.8" x2="307.69" y2="862" stroke="#a8a8a8" stroke-width="0.9"/>
<line x1="311.42" y1="856.8" x2="311.42" y2="862" stroke="#a8a8a8" stroke-width="0.9"/>
<line x1="315.14" y1="856.8" x2="315.14" y2="862" stroke="#a8a8a8" stroke-width="0.9"/>
<line x1="318.87" y1="856.8" x2="318.87" y2="862" stroke="#a8a8a8" stroke-width="0.9"/>
<line x1="322.6" y1="856.8" x2="322.6" y2="862" stroke="#a8a8a8" stroke-width="0.9"/>
<line x1="326.32" y1="856.8" x2="326.32" y2="862" stroke="#a8a8a8" stroke-width="0.9"/>
<line x1="330.05" y1="856.8" x2="330.05" y2="862" stroke="#a8a8a8" stroke-width="0.9"/>
<line x1="333.78" y1="856.8" x2="333.78" y2="862" stroke="#a8a8a8" stroke-width="0.9"/>
<line x1="337.51" y1="856.8" x2="337.51" y2="862" stroke="#a8a8a8" stroke-width="0.9"/>
<line x1="341.23" y1="856.8" x2="341.23" y2="862" stroke="#a8a8a8" stroke-width="0.9"/>
<line x1="344.96" y1="856.8" x2="344.96" y2="862" stroke="#a8a8a8" stroke-width="0.9"/>
<line x1="348.69" y1="856.8" x2="348.69" y2="862" stroke="#a8a8a8" stroke-width="0.9"/>
<line x1="352.41" y1="856.8" x2="352.41" y2="862" stroke="#a8a8a8" stroke-width="0.9"/>
<line x1="356.14" y1="856.8" x2="356.14" y2="862" stroke="#a8a8a8" stroke-width="0.9"/>
<line x1="359.87" y1="856.8" x2="359.87" y2="862" stroke="#a8a8a8" stroke-width="0.9"/>
<line x1="363.6" y1="856.8" x2="363.6" y2="862" stroke="#a8a8a8" stroke-width="0.9"/>
<line x1="367.32" y1="856.8" x2="367.32" y2="862" stroke="#a8a8a8" stroke-width="0.9"/>
<line x1="371.05" y1="856.8" x2="371.05" y2="862" stroke="#a8a8a8" stroke-width="0.9"/>
<line x1="374.78" y1="856.8" x2="374.78" y2="862" stroke="#a8a8a8" stroke-width="0.9"/>
<line x1="378.5" y1="856.8" x2="378.5" y2="862" stroke="#a8a8a8" stroke-width="0.9"/>
<line x1="382.23" y1="856.8" x2="382.23" y2="862" stroke="#a8a8a8" stroke-width="0.9"/>
<line x1="385.96" y1="856.8" x2="385.96" y2="862" stroke="#a8a8a8" stroke-width="0.9"/>
<line x1="389.68" y1="856.8" x2="389.68" y2="862" stroke="#a8a8a8" stroke-width="0.9"/>
<line x1="393.41" y1="856.8" x2="393.41" y2="862" stroke="#a8a8a8" stroke-width="0.9"/>
<line x1="397.14" y1="856.8" x2="397.14" y2="862" stroke="#a8a8a8" stroke-width="0.9"/>
<line x1="400.87" y1="856.8" x2="400.87" y2="862" stroke="#a8a8a8" stroke-width="0.9"/>
<line x1="404.59" y1="856.8" x2="404.59" y2="862" stroke="#a8a8a8" stroke-width="0.9"/>
<line x1="408.32" y1="856.8" x2="408.32" y2="862" stroke="#a8a8a8" stroke-width="0.9"/>
<line x1="412.05" y1="856.8" x2="412.05" y2="862" stroke="#a8a8a8" stroke-width="0.9"/>
<line x1="415.77" y1="856.8" x2="415.77" y2="862" stroke="#a8a8a8" stroke-width="0.9"/>
<line x1="419.5" y1="856.8" x2="419.5" y2="862" stroke="#a8a8a8" stroke-width="0.9"/>
<line x1="423.23" y1="856.8" x2="423.23" y2="862" stroke="#a8a8a8" stroke-width="0.9"/>
<line x1="426.96" y1="856.8" x2="426.96" y2="862" stroke="#a8a8a8" stroke-width="0.9"/>
<line x1="430.68" y1="856.8" x2="430.68" y2="862" stroke="#a8a8a8" stroke-width="0.9"/>
<line x1="434.41" y1="856.8" x2="434.41" y2="862" stroke="#a8a8a8" stroke-width="0.9"/>
<line x1="438.14" y1="856.8" x2="438.14" y2="862" stroke="#a8a8a8" stroke-width="0.9"/>
<line x1="441.86" y1="856.8" x2="441.86" y2="862" stroke="#a8a8a8" stroke-width="0.9"/>
<line x1="445.59" y1="856.8" x2="445.59" y2="862" stroke="#a8a8a8" stroke-width="0.9"/>
<line x1="449.32" y1="856.8" x2="449.32" y2="862" stroke="#a8a8a8" stroke-width="0.9"/>
<line x1="453.05" y1="856.8" x2="453.05" y2="862" stroke="#a8a8a8" stroke-width="0.9"/>
<line x1="456.77" y1="856.8" x2="456.77" y2="862" stroke="#a8a8a8" stroke-width="0.9"/>
<line x1="460.5" y1="856.8" x2="460.5" y2="862" stroke="#a8a8a8" stroke-width="0.9"/>
<line x1="464.23" y1="856.8" x2="464.23" y2="862" stroke="#a8a8a8" stroke-width="0.9"/>
<line x1="467.95" y1="856.8" x2="467.95" y2="862" stroke="#a8a8a8" stroke-width="0.9"/>
<line x1="471.68" y1="856.8" x2="471.68" y2="862" stroke="#a8a8a8" stroke-width="0.9"/>
<line x1="475.41" y1="856.8" x2="475.41" y2="862" stroke="#a8a8a8" stroke-width="0.9"/>
<line x1="479.14" y1="856.8" x2="479.14" y2="862" stroke="#a8a8a8" stroke-width="0.9"/>
<line x1="482.86" y1="856.8" x2="482.86" y2="862" stroke="#a8a8a8" stroke-width="0.9"/>
<line x1="486.59" y1="856.8" x2="486.59" y2="862" stroke="#a8a8a8" stroke-width="0.9"/>
<line x1="490.32" y1="856.8" x2="490.32" y2="862" stroke="#a8a8a8" stroke-width="0.9"/>
<line x1="494.04" y1="856.8" x2="494.04" y2="862" stroke="#a8a8a8" stroke-width="0.9"/>
<line x1="497.77" y1="856.8" x2="497.77" y2="862" stroke="#a8a8a8" stroke-width="0.9"/>
<line x1="501.5" y1="856.8" x2="501.5" y2="862" stroke="#a8a8a8" stroke-width="0.9"/>
<line x1="505.22" y1="856.8" x2="505.22" y2="862" stroke="#a8a8a8" stroke-width="0.9"/>
<line x1="508.95" y1="856.8" x2="508.95" y2="862" stroke="#a8a8a8" stroke-width="0.9"/>
<line x1="512.68" y1="856.8" x2="512.68" y2="862" stroke="#a8a8a8" stroke-width="0.9"/>
<line x1="516.41" y1="856.8" x2="516.41" y2="862" stroke="#a8a8a8" stroke-width="0.9"/>
<line x1="520.13" y1="856.8" x2="520.13" y2="862" stroke="#a8a8a8" stroke-width="0.9"/>
<line x1="523.86" y1="856.8" x2="523.86" y2="862" stroke="#a8a8a8" stroke-width="0.9"/>
<line x1="527.59" y1="856.8" x2="527.59" y2="862" stroke="#a8a8a8" stroke-width="0.9"/>
<line x1="531.31" y1="856.8" x2="531.31" y2="862" stroke="#a8a8a8" stroke-width="0.9"/>
<line x1="535.04" y1="856.8" x2="535.04" y2="862" stroke="#a8a8a8" stroke-width="0.9"/>
<line x1="538.77" y1="856.8" x2="538.77" y2="862" stroke="#a8a8a8" stroke-width="0.9"/>
<line x1="542.5" y1="856.8" x2="542.5" y2="862" stroke="#a8a8a8" stroke-width="0.9"/>
<line x1="546.22" y1="856.8" x2="546.22" y2="862" stroke="#a8a8a8" stroke-width="0.9"/>
<line x1="549.95" y1="856.8" x2="549.95" y2="862" stroke="#a8a8a8" stroke-width="0.9"/>
<line x1="553.68" y1="856.8" x2="553.68" y2="862" stroke="#a8a8a8" stroke-width="0.9"/>
<line x1="557.4" y1="856.8" x2="557.4" y2="862" stroke="#a8a8a8" stroke-width="0.9"/>
<line x1="561.13" y1="856.8" x2="561.13" y2="862" stroke="#a8a8a8" stroke-width="0.9"/>
<line x1="564.86" y1="856.8" x2="564.86" y2="862" stroke="#a8a8a8" stroke-width="0.9"/>
<line x1="568.59" y1="856.8" x2="568.59" y2="862" stroke="#a8a8a8" stroke-width="0.9"/>
<line x1="572.31" y1="856.8" x2="572.31" y2="862" stroke="#a8a8a8" stroke-width="0.9"/>
<line x1="576.04" y1="856.8" x2="576.04" y2="862" stroke="#a8a8a8" stroke-width="0.9"/>
<line x1="579.77" y1="856.8" x2="579.77" y2="862" stroke="#a8a8a8" stroke-width="0.9"/>
<line x1="583.49" y1="856.8" x2="583.49" y2="862" stroke="#a8a8a8" stroke-width="0.9"/>
<line x1="587.22" y1="856.8" x2="587.22" y2="862" stroke="#a8a8a8" stroke-width="0.9"/>
<line x1="590.95" y1="856.8" x2="590.95" y2="862" stroke="#a8a8a8" stroke-width="0.9"/>
<line x1="594.68" y1="856.8" x2="594.68" y2="862" stroke="#a8a8a8" stroke-width="0.9"/>
<line x1="598.4" y1="856.8" x2="598.4" y2="862" stroke="#a8a8a8" stroke-width="0.9"/>
<line x1="602.13" y1="856.8" x2="602.13" y2="862" stroke="#a8a8a8" stroke-width="0.9"/>
<line x1="605.86" y1="856.8" x2="605.86" y2="862" stroke="#a8a8a8" stroke-width="0.9"/>
<line x1="609.58" y1="856.8" x2="609.58" y2="862" stroke="#a8a8a8" stroke-width="0.9"/>
<line x1="613.31" y1="856.8" x2="613.31" y2="862" stroke="#a8a8a8" stroke-width="0.9"/>
<line x1="617.04" y1="856.8" x2="617.04" y2="862" stroke="#a8a8a8" stroke-width="0.9"/>
<line x1="620.77" y1="856.8" x2="620.77" y2="862" stroke="#a8a8a8" stroke-width="0.9"/>
<line x1="624.49" y1="856.8" x2="624.49" y2="862" stroke="#a8a8a8" stroke-width="0.9"/>
<line x1="628.22" y1="856.8" x2="628.22" y2="862" stroke="#a8a8a8" stroke-width="0.9"/>
<line x1="631.95" y1="856.8" x2="631.95" y2="862" stroke="#a8a8a8" stroke-width="0.9"/>
<line x1="635.67" y1="856.8" x2="635.67" y2="862" stroke="#a8a8a8" stroke-width="0.9"/>
<line x1="639.4" y1="856.8" x2="639.4" y2="862" stroke="#a8a8a8" stroke-width="0.9"/>
<line x1="643.13" y1="856.8" x2="643.13" y2="862" stroke="#a8a8a8" stroke-width="0.9"/>
<line x1="646.85" y1="856.8" x2="646.85" y2="862" stroke="#a8a8a8" stroke-width="0.9"/>
<line x1="650.58" y1="856.8" x2="650.58" y2="862" stroke="#a8a8a8" stroke-width="0.9"/>
<line x1="654.31" y1="856.8" x2="654.31" y2="862" stroke="#a8a8a8" stroke-width="0.9"/>
<line x1="658.04" y1="856.8" x2="658.04" y2="862" stroke="#a8a8a8" stroke-width="0.9"/>
<line x1="661.76" y1="856.8" x2="661.76" y2="862" stroke="#a8a8a8" stroke-width="0.9"/>
<line x1="665.49" y1="856.8" x2="665.49" y2="862" stroke="#a8a8a8" stroke-width="0.9"/>
<line x1="669.22" y1="856.8" x2="669.22" y2="862" stroke="#a8a8a8" stroke-width="0.9"/>
<line x1="672.94" y1="856.8" x2="672.94" y2="862" stroke="#a8a8a8" stroke-width="0.9"/>
<line x1="676.67" y1="856.8" x2="676.67" y2="862" stroke="#a8a8a8" stroke-width="0.9"/>
<line x1="680.4" y1="856.8" x2="680.4" y2="862" stroke="#a8a8a8" stroke-width="0.9"/>
<line x1="684.13" y1="856.8" x2="684.13" y2="862" stroke="#a8a8a8" stroke-width="0.9"/>
<line x1="687.85" y1="856.8" x2="687.85" y2="862" stroke="#a8a8a8" stroke-width="0.9"/>
<line x1="691.58" y1="856.8" x2="691.58" y2="862" stroke="#a8a8a8" stroke-width="0.9"/>
<line x1="695.31" y1="856.8" x2="695.31" y2="862" stroke="#a8a8a8" stroke-width="0.9"/>
<line x1="699.03" y1="856.8" x2="699.03" y2="862" stroke="#a8a8a8" stroke-width="0.9"/>
<line x1="702.76" y1="856.8" x2="702.76" y2="862" stroke="#a8a8a8" stroke-width="0.9"/>
<line x1="706.49" y1="856.8" x2="706.49" y2="862" stroke="#a8a8a8" stroke-width="0.9"/>
<line x1="710.22" y1="856.8" x2="710.22" y2="862" stroke="#a8a8a8" stroke-width="0.9"/>
<line x1="713.94" y1="856.8" x2="713.94" y2="862" stroke="#a8a8a8" stroke-width="0.9"/>
<line x1="717.67" y1="856.8" x2="717.67" y2="862" stroke="#a8a8a8" stroke-width="0.9"/>
<line x1="721.4" y1="856.8" x2="721.4" y2="862" stroke="#a8a8a8" stroke-width="0.9"/>
<line x1="725.12" y1="856.8" x2="725.12" y2="862" stroke="#a8a8a8" stroke-width="0.9"/>
<line x1="728.85" y1="856.8" x2="728.85" y2="862" stroke="#a8a8a8" stroke-width="0.9"/>
<line x1="732.58" y1="856.8" x2="732.58" y2="862" stroke="#a8a8a8" stroke-width="0.9"/>
<line x1="736.31" y1="856.8" x2="736.31" y2="862" stroke="#a8a8a8" stroke-width="0.9"/>
<line x1="740.03" y1="856.8" x2="740.03" y2="862" stroke="#a8a8a8" stroke-width="0.9"/>
<line x1="743.76" y1="856.8" x2="743.76" y2="862" stroke="#a8a8a8" stroke-width="0.9"/>
<line x1="747.49" y1="856.8" x2="747.49" y2="862" stroke="#a8a8a8" stroke-width="0.9"/>
<line x1="751.21" y1="856.8" x2="751.21" y2="862" stroke="#a8a8a8" stroke-width="0.9"/>
<line x1="754.94" y1="856.8" x2="754.94" y2="862" stroke="#a8a8a8" stroke-width="0.9"/>
<line x1="758.67" y1="856.8" x2="758.67" y2="862" stroke="#a8a8a8" stroke-width="0.9"/>
<line x1="762.39" y1="856.8" x2="762.39" y2="862" stroke="#a8a8a8" stroke-width="0.9"/>
<line x1="766.12" y1="856.8" x2="766.12" y2="862" stroke="#a8a8a8" stroke-width="0.9"/>
<line x1="769.85" y1="856.8" x2="769.85" y2="862" stroke="#a8a8a8" stroke-width="0.9"/>
<line x1="773.58" y1="856.8" x2="773.58" y2="862" stroke="#a8a8a8" stroke-width="0.9"/>
<line x1="777.3" y1="856.8" x2="777.3" y2="862" stroke="#a8a8a8" stroke-width="0.9"/>
<line x1="781.03" y1="856.8" x2="781.03" y2="862" stroke="#a8a8a8" stroke-width="0.9"/>
<line x1="784.76" y1="856.8" x2="784.76" y2="862" stroke="#a8a8a8" stroke-width="0.9"/>
<line x1="788.48" y1="856.8" x2="788.48" y2="862" stroke="#a8a8a8" stroke-width="0.9"/>
<line x1="792.21" y1="856.8" x2="792.21" y2="862" stroke="#a8a8a8" stroke-width="0.9"/>
<line x1="795.94" y1="856.8" x2="795.94" y2="862" stroke="#a8a8a8" stroke-width="0.9"/>
<line x1="799.67" y1="856.8" x2="799.67" y2="862" stroke="#a8a8a8" stroke-width="0.9"/>
<line x1="803.39" y1="856.8" x2="803.39" y2="862" stroke="#a8a8a8" stroke-width="0.9"/>
<line x1="807.12" y1="856.8" x2="807.12" y2="862" stroke="#a8a8a8" stroke-width="0.9"/>
<line x1="810.85" y1="856.8" x2="810.85" y2="862" stroke="#a8a8a8" stroke-width="0.9"/>
<line x1="814.57" y1="856.8" x2="814.57" y2="862" stroke="#a8a8a8" stroke-width="0.9"/>
<line x1="818.3" y1="856.8" x2="818.3" y2="862" stroke="#a8a8a8" stroke-width="0.9"/>
<line x1="822.03" y1="856.8" x2="822.03" y2="862" stroke="#a8a8a8" stroke-width="0.9"/>
<line x1="825.76" y1="856.8" x2="825.76" y2="862" stroke="#a8a8a8" stroke-width="0.9"/>
<line x1="829.48" y1="856.8" x2="829.48" y2="862" stroke="#a8a8a8" stroke-width="0.9"/>
<line x1="833.21" y1="856.8" x2="833.21" y2="862" stroke="#a8a8a8" stroke-width="0.9"/>
<line x1="836.94" y1="856.8" x2="836.94" y2="862" stroke="#a8a8a8" stroke-width="0.9"/>
<line x1="840.66" y1="856.8" x2="840.66" y2="862" stroke="#a8a8a8" stroke-width="0.9"/>
<line x1="844.39" y1="856.8" x2="844.39" y2="862" stroke="#a8a8a8" stroke-width="0.9"/>
<line x1="848.12" y1="856.8" x2="848.12" y2="862" stroke="#a8a8a8" stroke-width="0.9"/>
<line x1="851.85" y1="856.8" x2="851.85" y2="862" stroke="#a8a8a8" stroke-width="0.9"/>
<line x1="855.57" y1="856.8" x2="855.57" y2="862" stroke="#a8a8a8" stroke-width="0.9"/>
<line x1="859.3" y1="856.8" x2="859.3" y2="862" stroke="#a8a8a8" stroke-width="0.9"/>
<line x1="863.03" y1="856.8" x2="863.03" y2="862" stroke="#a8a8a8" stroke-width="0.9"/>
<line x1="866.75" y1="856.8" x2="866.75" y2="862" stroke="#a8a8a8" stroke-width="0.9"/>
<line x1="870.48" y1="856.8" x2="870.48" y2="862" stroke="#a8a8a8" stroke-width="0.9"/>
<line x1="874.21" y1="856.8" x2="874.21" y2="862" stroke="#a8a8a8" stroke-width="0.9"/>
<line x1="877.94" y1="856.8" x2="877.94" y2="862" stroke="#a8a8a8" stroke-width="0.9"/>
<line x1="881.66" y1="856.8" x2="881.66" y2="862" stroke="#a8a8a8" stroke-width="0.9"/>
<line x1="885.39" y1="856.8" x2="885.39" y2="862" stroke="#a8a8a8" stroke-width="0.9"/>
<line x1="889.12" y1="856.8" x2="889.12" y2="862" stroke="#a8a8a8" stroke-width="0.9"/>
<line x1="892.84" y1="856.8" x2="892.84" y2="862" stroke="#a8a8a8" stroke-width="0.9"/>
<line x1="896.57" y1="856.8" x2="896.57" y2="862" stroke="#a8a8a8" stroke-width="0.9"/>
<line x1="900.3" y1="856.8" x2="900.3" y2="862" stroke="#a8a8a8" stroke-width="0.9"/>
<line x1="904.02" y1="856.8" x2="904.02" y2="862" stroke="#a8a8a8" stroke-width="0.9"/>
<line x1="907.75" y1="856.8" x2="907.75" y2="862" stroke="#a8a8a8" stroke-width="0.9"/>
<line x1="911.48" y1="856.8" x2="911.48" y2="862" stroke="#a8a8a8" stroke-width="0.9"/>
<line x1="915.21" y1="856.8" x2="915.21" y2="862" stroke="#a8a8a8" stroke-width="0.9"/>
<line x1="918.93" y1="856.8" x2="918.93" y2="862" stroke="#a8a8a8" stroke-width="0.9"/>
<line x1="922.66" y1="856.8" x2="922.66" y2="862" stroke="#a8a8a8" stroke-width="0.9"/>
<line x1="926.39" y1="856.8" x2="926.39" y2="862" stroke="#a8a8a8" stroke-width="0.9"/>
<line x1="930.11" y1="856.8" x2="930.11" y2="862" stroke="#a8a8a8" stroke-width="0.9"/>
<line x1="933.84" y1="856.8" x2="933.84" y2="862" stroke="#a8a8a8" stroke-width="0.9"/>
<line x1="937.57" y1="856.8" x2="937.57" y2="862" stroke="#a8a8a8" stroke-width="0.9"/>
<line x1="941.3" y1="856.8" x2="941.3" y2="862" stroke="#a8a8a8" stroke-width="0.9"/>
<line x1="945.02" y1="856.8" x2="945.02" y2="862" stroke="#a8a8a8" stroke-width="0.9"/>
<line x1="948.75" y1="856.8" x2="948.75" y2="862" stroke="#a8a8a8" stroke-width="0.9"/>
<text x="61.75" y="875" text-anchor="middle" class="bxl">200601</text>
<text x="117.19" y="875" text-anchor="middle" class="bxl">200703</text>
<text x="172.62" y="875" text-anchor="middle" class="bxl">200806</text>
<text x="228.06" y="875" text-anchor="middle" class="bxl">200909</text>
<text x="283.5" y="875" text-anchor="middle" class="bxl">201012</text>
<text x="338.94" y="875" text-anchor="middle" class="bxl">201203</text>
<text x="394.38" y="875" text-anchor="middle" class="bxl">201306</text>
<text x="449.81" y="875" text-anchor="middle" class="bxl">201409</text>
<text x="505.25" y="875" text-anchor="middle" class="bxl">201512</text>
<text x="560.69" y="875" text-anchor="middle" class="bxl">201702</text>
<text x="616.12" y="875" text-anchor="middle" class="bxl">201805</text>
<text x="671.56" y="875" text-anchor="middle" class="bxl">201908</text>
<text x="727" y="875" text-anchor="middle" class="bxl">202011</text>
<text x="782.44" y="875" text-anchor="middle" class="bxl">202202</text>
<text x="837.88" y="875" text-anchor="middle" class="bxl">202305</text>
<text x="893.31" y="875" text-anchor="middle" class="bxl">202408</text>
<text x="948.75" y="875" text-anchor="middle" class="bxl">202510</text>
<rect x="60.02" y="835.72" width="3.35" height="11.78" fill="#F8766D"/>
<rect x="63.75" y="823.94" width="3.35" height="23.56" fill="#00BFC4"/>
<rect x="67.48" y="835.72" width="3.35" height="11.78" fill="#00BFC4"/>
<rect x="67.48" y="823.94" width="3.35" height="11.78" fill="#F8766D"/>
<rect x="71.2" y="835.72" width="3.35" height="11.78" fill="#00BFC4"/>
<rect x="74.93" y="823.94" width="3.35" height="23.56" fill="#00BFC4"/>
<rect x="97.29" y="835.72" width="3.35" height="11.78" fill="#00BFC4"/>
<rect x="112.2" y="835.72" width="3.35" height="11.78" fill="#00BFC4"/>
<rect x="115.93" y="835.72" width="3.35" height="11.78" fill="#00BFC4"/>
<rect x="138.29" y="835.72" width="3.35" height="11.78" fill="#00BFC4"/>
<rect x="138.29" y="659.02" width="3.35" height="176.7" fill="#F8766D"/>
<rect x="142.02" y="835.72" width="3.35" height="11.78" fill="#F8766D"/>
<rect x="153.2" y="835.72" width="3.35" height="11.78" fill="#00BFC4"/>
<rect x="153.2" y="823.94" width="3.35" height="11.78" fill="#F8766D"/>
<rect x="156.93" y="835.72" width="3.35" height="11.78" fill="#00BFC4"/>
<rect x="156.93" y="823.94" width="3.35" height="11.78" fill="#F8766D"/>
<rect x="160.65" y="835.72" width="3.35" height="11.78" fill="#F8766D"/>
<rect x="168.11" y="729.7" width="3.35" height="117.8" fill="#F8766D"/>
<rect x="171.84" y="823.94" width="3.35" height="23.56" fill="#F8766D"/>
<rect x="186.74" y="835.72" width="3.35" height="11.78" fill="#00BFC4"/>
<rect x="186.74" y="823.94" width="3.35" height="11.78" fill="#F8766D"/>
<rect x="190.47" y="835.72" width="3.35" height="11.78" fill="#00BFC4"/>
<rect x="197.93" y="835.72" width="3.35" height="11.78" fill="#00BFC4"/>
<rect x="201.65" y="835.72" width="3.35" height="11.78" fill="#00BFC4"/>
<rect x="201.65" y="823.94" width="3.35" height="11.78" fill="#F8766D"/>
<rect x="205.38" y="823.94" width="3.35" height="23.56" fill="#00BFC4"/>
<rect x="205.38" y="812.16" width="3.35" height="11.78" fill="#F8766D"/>
<rect x="209.11" y="823.94" width="3.35" height="23.56" fill="#00BFC4"/>
<rect x="220.29" y="835.72" width="3.35" height="11.78" fill="#F8766D"/>
<rect x="224.02" y="835.72" width="3.35" height="11.78" fill="#00BFC4"/>
<rect x="231.47" y="835.72" width="3.35" height="11.78" fill="#00BFC4"/>
<rect x="242.65" y="835.72" width="3.35" height="11.78" fill="#00BFC4"/>
<rect x="246.38" y="835.72" width="3.35" height="11.78" fill="#F8766D"/>
<rect x="250.1" y="835.72" width="3.35" height="11.78" fill="#00BFC4"/>
<rect x="250.1" y="823.94" width="3.35" height="11.78" fill="#F8766D"/>
<rect x="257.56" y="835.72" width="3.35" height="11.78" fill="#00BFC4"/>
<rect x="257.56" y="823.94" width="3.35" height="11.78" fill="#F8766D"/>
<rect x="261.29" y="835.72" width="3.35" height="11.78" fill="#00BFC4"/>
<rect x="261.29" y="823.94" width="3.35" height="11.78" fill="#F8766D"/>
<rect x="291.1" y="823.94" width="3.35" height="23.56" fill="#00BFC4"/>
<rect x="294.83" y="835.72" width="3.35" height="11.78" fill="#00BFC4"/>
<rect x="298.56" y="835.72" width="3.35" height="11.78" fill="#00BFC4"/>
<rect x="306.01" y="835.72" width="3.35" height="11.78" fill="#00BFC4"/>
<rect x="309.74" y="835.72" width="3.35" height="11.78" fill="#00BFC4"/>
<rect x="313.47" y="835.72" width="3.35" height="11.78" fill="#F8766D"/>
<rect x="317.19" y="823.94" width="3.35" height="23.56" fill="#F8766D"/>
<rect x="324.65" y="835.72" width="3.35" height="11.78" fill="#00BFC4"/>
<rect x="335.83" y="835.72" width="3.35" height="11.78" fill="#00BFC4"/>
<rect x="339.56" y="835.72" width="3.35" height="11.78" fill="#F8766D"/>
<rect x="343.28" y="823.94" width="3.35" height="23.56" fill="#00BFC4"/>
<rect x="343.28" y="670.8" width="3.35" height="153.14" fill="#F8766D"/>
<rect x="380.55" y="835.72" width="3.35" height="11.78" fill="#F8766D"/>
<rect x="384.28" y="835.72" width="3.35" height="11.78" fill="#F8766D"/>
<rect x="425.28" y="835.72" width="3.35" height="11.78" fill="#00BFC4"/>
<rect x="425.28" y="823.94" width="3.35" height="11.78" fill="#F8766D"/>
<rect x="451.37" y="823.94" width="3.35" height="23.56" fill="#F8766D"/>
<rect x="477.46" y="835.72" width="3.35" height="11.78" fill="#00BFC4"/>
<rect x="481.19" y="835.72" width="3.35" height="11.78" fill="#00BFC4"/>
<rect x="514.73" y="835.72" width="3.35" height="11.78" fill="#00BFC4"/>
<rect x="518.46" y="835.72" width="3.35" height="11.78" fill="#00BFC4"/>
<rect x="518.46" y="823.94" width="3.35" height="11.78" fill="#F8766D"/>
<rect x="525.91" y="835.72" width="3.35" height="11.78" fill="#00BFC4"/>
<rect x="529.64" y="835.72" width="3.35" height="11.78" fill="#F8766D"/>
<rect x="537.09" y="835.72" width="3.35" height="11.78" fill="#F8766D"/>
<rect x="555.73" y="835.72" width="3.35" height="11.78" fill="#00BFC4"/>
<rect x="555.73" y="812.16" width="3.35" height="23.56" fill="#F8766D"/>
<rect x="559.45" y="835.72" width="3.35" height="11.78" fill="#F8766D"/>
<rect x="566.91" y="835.72" width="3.35" height="11.78" fill="#F8766D"/>
<rect x="570.64" y="835.72" width="3.35" height="11.78" fill="#00BFC4"/>
<rect x="578.09" y="835.72" width="3.35" height="11.78" fill="#00BFC4"/>
<rect x="581.82" y="812.16" width="3.35" height="35.34" fill="#F8766D"/>
<rect x="589.27" y="835.72" width="3.35" height="11.78" fill="#00BFC4"/>
<rect x="589.27" y="823.94" width="3.35" height="11.78" fill="#F8766D"/>
<rect x="604.18" y="835.72" width="3.35" height="11.78" fill="#F8766D"/>
<rect x="630.27" y="823.94" width="3.35" height="23.56" fill="#00BFC4"/>
<rect x="630.27" y="812.16" width="3.35" height="11.78" fill="#F8766D"/>
<rect x="637.72" y="823.94" width="3.35" height="23.56" fill="#F8766D"/>
<rect x="641.45" y="823.94" width="3.35" height="23.56" fill="#F8766D"/>
<rect x="648.9" y="835.72" width="3.35" height="11.78" fill="#F8766D"/>
<rect x="663.81" y="835.72" width="3.35" height="11.78" fill="#00BFC4"/>
<rect x="667.54" y="823.94" width="3.35" height="23.56" fill="#00BFC4"/>
<rect x="671.27" y="835.72" width="3.35" height="11.78" fill="#00BFC4"/>
<rect x="671.27" y="823.94" width="3.35" height="11.78" fill="#F8766D"/>
<rect x="682.45" y="835.72" width="3.35" height="11.78" fill="#00BFC4"/>
<rect x="693.63" y="835.72" width="3.35" height="11.78" fill="#00BFC4"/>
<rect x="701.08" y="835.72" width="3.35" height="11.78" fill="#F8766D"/>
<rect x="704.81" y="835.72" width="3.35" height="11.78" fill="#00BFC4"/>
<rect x="704.81" y="823.94" width="3.35" height="11.78" fill="#F8766D"/>
<rect x="712.27" y="835.72" width="3.35" height="11.78" fill="#F8766D"/>
<rect x="715.99" y="835.72" width="3.35" height="11.78" fill="#00BFC4"/>
<rect x="719.72" y="812.16" width="3.35" height="35.34" fill="#00BFC4"/>
<rect x="719.72" y="800.38" width="3.35" height="11.78" fill="#F8766D"/>
<rect x="723.45" y="835.72" width="3.35" height="11.78" fill="#F8766D"/>
<rect x="730.9" y="835.72" width="3.35" height="11.78" fill="#00BFC4"/>
<rect x="738.36" y="835.72" width="3.35" height="11.78" fill="#00BFC4"/>
<rect x="760.72" y="835.72" width="3.35" height="11.78" fill="#00BFC4"/>
<rect x="760.72" y="812.16" width="3.35" height="23.56" fill="#F8766D"/>
<rect x="768.17" y="835.72" width="3.35" height="11.78" fill="#00BFC4"/>
<rect x="771.9" y="835.72" width="3.35" height="11.78" fill="#F8766D"/>
<rect x="783.08" y="835.72" width="3.35" height="11.78" fill="#F8766D"/>
<rect x="786.81" y="835.72" width="3.35" height="11.78" fill="#00BFC4"/>
<rect x="790.53" y="835.72" width="3.35" height="11.78" fill="#00BFC4"/>
<rect x="794.26" y="835.72" width="3.35" height="11.78" fill="#F8766D"/>
<rect x="824.08" y="776.82" width="3.35" height="70.68" fill="#F8766D"/>
<rect x="831.53" y="835.72" width="3.35" height="11.78" fill="#F8766D"/>
<rect x="838.99" y="835.72" width="3.35" height="11.78" fill="#F8766D"/>
<rect x="842.71" y="835.72" width="3.35" height="11.78" fill="#00BFC4"/>
<rect x="868.8" y="835.72" width="3.35" height="11.78" fill="#F8766D"/>
<rect x="879.98" y="835.72" width="3.35" height="11.78" fill="#F8766D"/>
<rect x="883.71" y="823.94" width="3.35" height="23.56" fill="#F8766D"/>
<rect x="898.62" y="835.72" width="3.35" height="11.78" fill="#F8766D"/>
<rect x="913.53" y="835.72" width="3.35" height="11.78" fill="#00BFC4"/>
<rect x="913.53" y="800.38" width="3.35" height="35.34" fill="#F8766D"/>
<rect x="924.71" y="835.72" width="3.35" height="11.78" fill="#00BFC4"/>
<rect x="924.71" y="823.94" width="3.35" height="11.78" fill="#F8766D"/>
<rect x="943.35" y="835.72" width="3.35" height="11.78" fill="#00BFC4"/>
<rect x="947.07" y="835.72" width="3.35" height="11.78" fill="#00BFC4"/>
<line x1="579.6" y1="651" x2="579.6" y2="862" stroke="#e8b444" stroke-width="2.2" stroke-dasharray="7.3 6.9"/>
<line x1="628.1" y1="651" x2="628.1" y2="862" stroke="#e8b444" stroke-width="2.2" stroke-dasharray="7.3 6.9"/>
<line x1="683.75" y1="651" x2="683.75" y2="862" stroke="#e8b444" stroke-width="2.2" stroke-dasharray="7.3 6.9"/>
<line x1="706.25" y1="651" x2="706.25" y2="862" stroke="#e8b444" stroke-width="1.6" stroke-dasharray="7.3 6.9"/>
<line x1="766.25" y1="651" x2="766.25" y2="862" stroke="#e8b444" stroke-width="1.6" stroke-dasharray="7.3 6.9"/>
<line x1="799.5" y1="651" x2="799.5" y2="862" stroke="#e8b444" stroke-width="1.6" stroke-dasharray="7.3 6.9"/>
<line x1="821.75" y1="651" x2="821.75" y2="862" stroke="#e8b444" stroke-width="1.6" stroke-dasharray="7.3 6.9"/>
<line x1="851.75" y1="651" x2="851.75" y2="862" stroke="#e8b444" stroke-width="1.6" stroke-dasharray="7.3 6.9"/>
<line x1="915" y1="651" x2="915" y2="862" stroke="#e8b444" stroke-width="1.6" stroke-dasharray="7.3 6.9"/>
<line x1="918.75" y1="651" x2="918.75" y2="862" stroke="#e8b444" stroke-width="1.6" stroke-dasharray="7.3 6.9"/>
<line x1="930" y1="651" x2="930" y2="862" stroke="#e8b444" stroke-width="1.6" stroke-dasharray="7.3 6.9"/>
<line x1="945" y1="651" x2="945" y2="862" stroke="#e8b444" stroke-width="1.6" stroke-dasharray="7.3 6.9"/>
<g clip-path="url(#bclip)">
<text x="555" y="682.5" class="ann" textLength="50" lengthAdjust="spacingAndGlyphs">8·2 대책</text>
<text x="614" y="672.5" class="ann" textLength="27.3" lengthAdjust="spacingAndGlyphs">9·13</text>
<text x="602" y="693" class="ann" textLength="51.3" lengthAdjust="spacingAndGlyphs">종합대책</text>
<text x="670.3" y="672.5" class="ann" textLength="28.5" lengthAdjust="spacingAndGlyphs">12·16</text>
<text x="661.7" y="692.5" class="ann" textLength="45.8" lengthAdjust="spacingAndGlyphs">18차대책</text>
<text x="752" y="673" class="ann" textLength="29.1" lengthAdjust="spacingAndGlyphs">10·26</text>
<text x="733.75" y="691.5" class="ann" textLength="64.15" lengthAdjust="spacingAndGlyphs">대출규제강화</text>
<text x="814" y="673" class="ann" textLength="14.8" lengthAdjust="spacingAndGlyphs">1·3</text>
<text x="798.6" y="691.5" class="ann" textLength="44.5" lengthAdjust="spacingAndGlyphs">규제완화</text>
<text x="842.7" y="690" class="ann" textLength="16.8" lengthAdjust="spacingAndGlyphs">9·7</text>
<text x="819.2" y="708" class="ann" textLength="124.2" lengthAdjust="spacingAndGlyphs">특례대출축소 토허제해제</text>
<text x="918.7" y="673" class="ann" textLength="23.3" lengthAdjust="spacingAndGlyphs">6·27</text>
<text x="933" y="673" class="ann" textLength="23" lengthAdjust="spacingAndGlyphs">10·1</text>
<text x="908.9" y="691.5" class="ann" textLength="42.3" lengthAdjust="spacingAndGlyphs">대출규제</text>
<text x="910.6" y="691.5" class="ann" textLength="42.3" lengthAdjust="spacingAndGlyphs">대출규제</text>
</g>
<rect x="726.4" y="659.6" width="221.2" height="186.8" fill="#ff0000" fill-opacity="0.2"/>
<rect x="725.3" y="658.5" width="223.4" height="189" fill="none" stroke="#e2cccc" stroke-width="2.2" stroke-dasharray="3.9 3.2"/>
<text transform="translate(23,796) rotate(-90)" class="axt" textLength="86" lengthAdjust="spacingAndGlyphs">거래량(건)</text>
<rect x="451" y="901" width="26" height="27" fill="#F8766D"/>
<text x="489.5" y="920" class="bleg">30</text>
<rect x="517" y="901" width="26" height="27" fill="#00BFC4"/>
<text x="554" y="920" class="bleg">45</text>
<text x="545.8" y="948.5" class="cap" textLength="404" lengthAdjust="spacingAndGlyphs">©디아파트(dapt.kr) / 2025.11.14 / 자료=국토교통부 실거래가</text>
</svg></body></html>
